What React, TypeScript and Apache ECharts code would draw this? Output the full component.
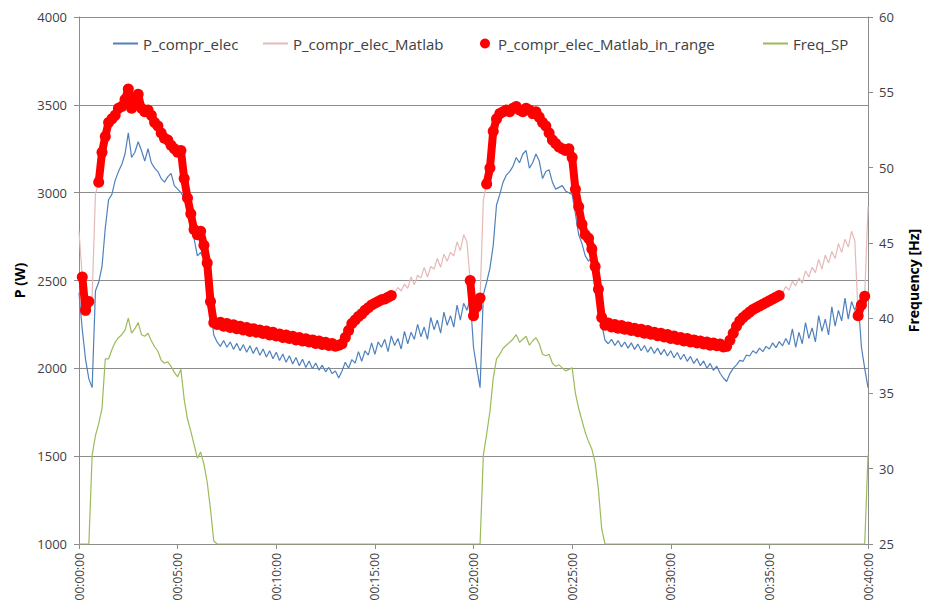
import React, { useEffect, useRef } from "react";
import * as echarts from "echarts";

// Sampling step of the two power traces (seconds)
const SAMPLE_STEP_S = 10;

// X tick labels, one every 5 minutes
const X_TICK_LABELS = [
  "00:00:00", "00:05:00", "00:10:00", "00:15:00", "00:20:00",
  "00:25:00", "00:30:00", "00:35:00", "00:40:00",
];

// P_compr_elec (W), one value every 10 s, 0 .. 2400 s
const P_COMPR_ELEC = [
  2430, 2220, 2050, 1940, 1890, 2440, 2490, 2580, 2800, 2960,
  2990, 3070, 3120, 3160, 3220, 3340, 3200, 3230, 3290, 3240,
  3180, 3250, 3170, 3140, 3120, 3080, 3060, 3090, 3110, 3040,
  3020, 3000, 2970, 2900, 2800, 2740, 2640, 2660, 2620, 2540,
  2340, 2190, 2150, 2125, 2158, 2120, 2150, 2108, 2142, 2100,
  2135, 2092, 2128, 2085, 2120, 2075, 2110, 2065, 2100, 2055,
  2092, 2045, 2082, 2035, 2072, 2025, 2062, 2015, 2052, 2005,
  2042, 1998, 2030, 1990, 2018, 1980, 2005, 1970, 1985, 1945,
  1985, 2035, 2000, 2050, 2030, 2095, 2040, 2100, 2075, 2145,
  2080, 2150, 2120, 2165, 2095, 2185, 2130, 2170, 2110, 2210,
  2140, 2205, 2165, 2250, 2180, 2235, 2165, 2290, 2220, 2275,
  2200, 2320, 2245, 2300, 2235, 2360, 2275, 2370, 2330, 2400,
  2120, 2000, 1890, 2420, 2490, 2570, 2700, 2930, 2990, 3060,
  3100, 3120, 3150, 3200, 3170, 3220, 3240, 3140, 3170, 3220,
  3180, 3080, 3120, 3130, 3060, 3020, 3030, 3040, 3010, 3000,
  2990, 2880, 2760, 2710, 2640, 2610, 2630, 2560, 2480, 2250,
  2160, 2140, 2165, 2130, 2158, 2122, 2150, 2115, 2145, 2108,
  2138, 2100, 2130, 2092, 2122, 2085, 2115, 2078, 2108, 2070,
  2100, 2060, 2090, 2050, 2080, 2040, 2068, 2028, 2055, 2015,
  2042, 2000, 2028, 1988, 2012, 1972, 1945, 1925, 1970, 2000,
  2020, 2045, 2040, 2075, 2070, 2100, 2085, 2115, 2095, 2125,
  2110, 2145, 2118, 2152, 2128, 2170, 2135, 2225, 2120, 2205,
  2140, 2260, 2170, 2230, 2150, 2300, 2210, 2280, 2190, 2350,
  2240, 2330, 2270, 2400, 2280, 2380, 2330, 2390, 2120, 2000,
  1890,
];

// P_compr_elec_Matlab (W), one value every 10 s, 0 .. 2400 s
const P_COMPR_ELEC_MATLAB = [
  2780, 2520, 2330, 2380, 2410, 2990, 3060, 3230, 3320, 3400,
  3420, 3440, 3480, 3490, 3530, 3590, 3480, 3520, 3560, 3480,
  3460, 3470, 3440, 3400, 3380, 3340, 3310, 3300, 3270, 3250,
  3230, 3240, 3080, 2970, 2880, 2790, 2760, 2780, 2700, 2600,
  2380, 2260, 2250, 2262, 2240, 2255, 2232, 2248, 2225, 2240,
  2218, 2232, 2210, 2226, 2205, 2218, 2198, 2212, 2190, 2205,
  2184, 2196, 2176, 2190, 2170, 2182, 2162, 2176, 2156, 2168,
  2150, 2162, 2142, 2155, 2136, 2148, 2130, 2142, 2126, 2132,
  2140, 2175, 2215, 2255, 2275, 2295, 2310, 2330, 2345, 2360,
  2370, 2380, 2390, 2395, 2405, 2415, 2430, 2460, 2440, 2480,
  2455, 2520, 2475, 2530, 2515, 2575, 2520, 2580, 2565, 2625,
  2575, 2650, 2610, 2660, 2640, 2720, 2670, 2760, 2720, 2500,
  2300, 2350, 2400, 2960, 3050, 3140, 3350, 3420, 3450, 3460,
  3470, 3460, 3480, 3490, 3470, 3460, 3480, 3470, 3450, 3460,
  3430, 3400, 3380, 3340, 3300, 3280, 3260, 3250, 3240, 3250,
  3200, 3020, 2920, 2820, 2760, 2740, 2680, 2580, 2450, 2290,
  2245, 2258, 2236, 2250, 2228, 2244, 2222, 2236, 2215, 2228,
  2208, 2222, 2200, 2215, 2194, 2206, 2186, 2200, 2178, 2192,
  2170, 2184, 2164, 2176, 2156, 2170, 2150, 2162, 2144, 2156,
  2138, 2150, 2132, 2144, 2128, 2138, 2122, 2125, 2160, 2200,
  2240, 2270, 2290, 2305, 2320, 2335, 2345, 2355, 2365, 2375,
  2385, 2395, 2405, 2415, 2430, 2465, 2445, 2495, 2470, 2515,
  2485, 2555, 2520, 2575, 2545, 2620, 2565, 2645, 2600, 2665,
  2625, 2710, 2660, 2735, 2690, 2780, 2725, 2300, 2360, 2410,
  2920,
];

// Time windows (s) where the Matlab value is "in range"
const IN_RANGE_S = [
  [10, 30],
  [60, 950],
  [1190, 1220],
  [1240, 2130],
  [2370, 2390],
];

// Freq_SP (Hz) on the secondary axis
const FREQ_SP_TIME_S = [
  0, 30,
  40, 50, 60, 70, 80, 90, 100, 110, 120, 130,
  140, 150, 160, 170, 180, 190, 200, 210, 220, 230,
  240, 250, 260, 270, 280, 290, 300, 310, 320, 330,
  340, 350, 360, 370, 380, 390, 400, 410, 420,
  1220,
  1230, 1240, 1250, 1260, 1270, 1280, 1290, 1300, 1310, 1320,
  1330, 1340, 1350, 1360, 1370, 1380, 1390, 1400, 1410, 1420,
  1430, 1440, 1450, 1460, 1470, 1480, 1490, 1500, 1510, 1520,
  1530, 1540, 1550, 1560, 1570, 1580, 1590, 1600,
  2390, 2400,
];
const FREQ_SP_HZ = [
  25, 25,
  30.9, 32.2, 33.0, 34.0, 37.3, 37.3, 37.9, 38.4, 38.7, 38.9,
  39.2, 40.0, 39.0, 39.3, 39.7, 38.9, 38.8, 39.0, 38.5, 38.1,
  37.8, 37.2, 37.0, 37.1, 36.8, 36.4, 36.1, 36.6, 34.6, 33.3,
  32.5, 31.6, 30.7, 31.1, 30.3, 29.1, 27.3, 25.2, 25,
  25,
  30.9, 32.3, 33.8, 36.0, 37.3, 37.6, 38.0, 38.2, 38.4, 38.6,
  38.9, 38.4, 38.6, 38.8, 38.2, 38.5, 38.7, 38.3, 37.6, 37.5,
  37.6, 37.0, 36.8, 36.9, 36.7, 36.5, 36.6, 36.7, 35.0, 34.0,
  33.2, 32.4, 31.8, 31.3, 30.4, 28.6, 26.0, 25,
  25, 30.9,
];

const P_AXIS = { min: 1000, max: 4000, interval: 500 };
const F_AXIS = { min: 25, max: 60, interval: 5 };
const X_AXIS = { min: 0, max: 2400, interval: 300 };

const FONT = "'Open Sans', 'DejaVu Sans', sans-serif";
const AXIS_GRAY = "#8c8c8c";
const TEXT_GRAY = "#404040";

const C_BLUE = "#4f81bd";
const C_PINK = "#e6b9b8";
const C_RED = "#ff0000";
const C_GREEN = "#9bbb59";

export default function App() {
  const ref = useRef<HTMLDivElement | null>(null);

  useEffect(() => {
    if (!ref.current) return;
    const chart = echarts.init(ref.current, undefined, { renderer: "svg" });

    const t = (i: number) => i * SAMPLE_STEP_S;
    const inRange = (s: number) => IN_RANGE_S.some(([a, b]) => s >= a && s <= b);

    const blueData = P_COMPR_ELEC.map((v, i) => [t(i), v]);
    const matlabData = P_COMPR_ELEC_MATLAB.map((v, i) => [t(i), v]);
    const redData = P_COMPR_ELEC_MATLAB.map((v, i) =>
      inRange(t(i)) ? [t(i), v] : [t(i), "-"]
    );
    const greenData = FREQ_SP_HZ.map((v, i) => [FREQ_SP_TIME_S[i], v]);

    const legendText = { color: TEXT_GRAY, fontSize: 15, fontFamily: FONT };
    const lineLegend = (name: string, left: number) => ({
      left,
      top: 31,
      itemWidth: 25,
      itemHeight: 2,
      icon: "rect",
      selectedMode: false,
      textStyle: legendText,
      data: [{ name, icon: "rect" }],
    });

    const option: any = {
      animation: false,
      backgroundColor: "#ffffff",
      textStyle: { fontFamily: FONT },
      grid: { left: 79, right: 63, top: 17, bottom: 66, containLabel: false },
      legend: [
        lineLegend("P_compr_elec", 108),
        lineLegend("P_compr_elec_Matlab", 258),
        {
          left: 475,
          top: 31,
          itemWidth: 10,
          itemHeight: 10,
          icon: "circle",
          selectedMode: false,
          textStyle: { ...legendText, padding: [0, 0, 0, 3] },
          data: [{ name: "P_compr_elec_Matlab_in_range", icon: "circle" }],
        },
        lineLegend("Freq_SP", 758),
      ],
      xAxis: {
        type: "value",
        min: X_AXIS.min,
        max: X_AXIS.max,
        interval: X_AXIS.interval,
        axisLine: { show: true, lineStyle: { color: AXIS_GRAY, width: 1 } },
        axisTick: { show: true, length: 5, lineStyle: { color: AXIS_GRAY } },
        axisLabel: {
          rotate: 90,
          margin: 9,
          fontSize: 12,
          color: TEXT_GRAY,
          fontFamily: FONT,
          formatter: (v: number) => X_TICK_LABELS[Math.round(v / X_AXIS.interval)] ?? "",
        },
        splitLine: { show: false },
      },
      yAxis: [
        {
          type: "value",
          position: "left",
          min: P_AXIS.min,
          max: P_AXIS.max,
          interval: P_AXIS.interval,
          name: "P (W)",
          nameLocation: "middle",
          nameGap: 47,
          nameRotate: 90,
          nameTextStyle: { fontWeight: "bold", fontSize: 14, color: "#000", fontFamily: FONT },
          axisLine: { show: true, lineStyle: { color: AXIS_GRAY, width: 1 } },
          axisTick: { show: true, length: 5, lineStyle: { color: AXIS_GRAY } },
          axisLabel: {
            fontSize: 13,
            color: TEXT_GRAY,
            margin: 12,
            fontFamily: FONT,
            formatter: (v: number) => String(v),
          },
          splitLine: { show: true, lineStyle: { color: AXIS_GRAY, width: 1 } },
        },
        {
          type: "value",
          position: "right",
          min: F_AXIS.min,
          max: F_AXIS.max,
          interval: F_AXIS.interval,
          name: "Frequency [Hz]",
          nameLocation: "middle",
          nameGap: 38,
          nameRotate: 90,
          nameTextStyle: { fontWeight: "bold", fontSize: 14, color: "#000", fontFamily: FONT },
          axisLine: { show: true, lineStyle: { color: AXIS_GRAY, width: 1 } },
          axisTick: { show: true, length: 5, lineStyle: { color: AXIS_GRAY } },
          axisLabel: {
            fontSize: 13,
            color: TEXT_GRAY,
            margin: 11,
            fontFamily: FONT,
            formatter: (v: number) => String(v),
          },
          splitLine: { show: false },
        },
      ],
      series: [
        {
          name: "P_compr_elec",
          type: "line",
          yAxisIndex: 0,
          data: blueData,
          showSymbol: false,
          color: C_BLUE,
          lineStyle: { color: C_BLUE, width: 1.2 },
          silent: true,
          z: 2,
        },
        {
          name: "P_compr_elec_Matlab",
          type: "line",
          yAxisIndex: 0,
          data: matlabData,
          showSymbol: false,
          color: C_PINK,
          lineStyle: { color: C_PINK, width: 1.2 },
          silent: true,
          z: 3,
        },
        {
          name: "P_compr_elec_Matlab_in_range",
          type: "line",
          yAxisIndex: 0,
          data: redData,
          showSymbol: true,
          symbol: "circle",
          symbolSize: 11,
          connectNulls: false,
          color: C_RED,
          itemStyle: { color: C_RED },
          lineStyle: { color: C_RED, width: 8 },
          silent: true,
          z: 4,
        },
        {
          name: "Freq_SP",
          type: "line",
          yAxisIndex: 1,
          data: greenData,
          showSymbol: false,
          color: C_GREEN,
          lineStyle: { color: C_GREEN, width: 1.2 },
          silent: true,
          z: 5,
        },
      ],
    };

    chart.setOption(option);
    return () => chart.dispose();
  }, []);

  return (
    <div
      ref={ref}
      style={{ position: "fixed", left: 0, top: 0, width: 931, height: 610, background: "#fff" }}
    />
  );
}
